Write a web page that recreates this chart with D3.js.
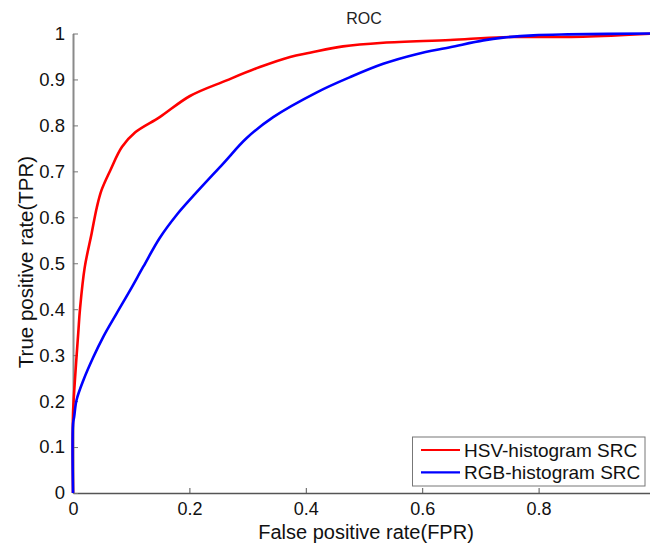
<!DOCTYPE html>
<html><head><meta charset="utf-8">
<script src="https://cdn.jsdelivr.net/npm/d3@7"></script>
<style>body{margin:0;background:#fff}svg{display:block;font-family:"Liberation Sans",Arial,sans-serif}</style>
</head><body><svg id="c" width="650" height="543"></svg>
<script>
const seriesNames = ["HSV-histogram SRC", "RGB-histogram SRC"];
const seriesColors = ["#ff0000", "#0000ff"];
const hsvFPR = [0,0,0.003,0.009,0.012,0.02,0.032,0.041,0.049,0.064,0.084,0.107,0.149,0.201,0.264,0.321,0.373,0.407,0.464,0.533,0.648,0.739,0.876,1.0];
const hsvTPR = [0,0.17,0.24,0.348,0.40,0.49,0.565,0.622,0.659,0.702,0.753,0.785,0.818,0.864,0.898,0.927,0.949,0.958,0.972,0.980,0.986,0.992,0.993,1.0];
const rgbFPR = [0,0,0.002,0.006,0.018,0.035,0.052,0.075,0.098,0.121,0.149,0.178,0.207,0.258,0.298,0.344,0.419,0.476,0.533,0.590,0.648,0.705,0.739,0.791,0.85,1.0];
const rgbTPR = [0,0.15,0.166,0.202,0.246,0.296,0.340,0.391,0.441,0.493,0.555,0.605,0.647,0.717,0.772,0.818,0.872,0.905,0.934,0.955,0.970,0.985,0.991,0.996,0.998,1.0];
const xTicks = [0,0.2,0.4,0.6,0.8];
const xTickLabels = ["0","0.2","0.4","0.6","0.8"];
const yTicks = [0,0.1,0.2,0.3,0.4,0.5,0.6,0.7,0.8,0.9,1];
const yTickLabels = ["0","0.1","0.2","0.3","0.4","0.5","0.6","0.7","0.8","0.9","1"];
const titleText = "ROC";
const xLabel = "False positive rate(FPR)";
const yLabel = "True positive rate(TPR)";

const svg = d3.select("#c");
const x = d3.scaleLinear().domain([0,1]).range([73,655]);
const y = d3.scaleLinear().domain([0,1]).range([493,33.5]);
const FF = "Liberation Sans, Arial, sans-serif";

// axes
const xa = svg.append("g").attr("transform","translate(0,493)")
  .call(d3.axisBottom(x).tickValues(xTicks).tickFormat((d,i)=>xTickLabels[i]).tickSizeInner(-5).tickSizeOuter(0).tickPadding(9));
xa.select(".domain").attr("stroke","#555").attr("stroke-width",1.3);
xa.selectAll(".tick line").attr("stroke","#555");
xa.selectAll(".tick text").attr("font-size",18).attr("fill","#111").attr("font-family",FF);

const ya = svg.append("g").attr("transform","translate(73,0)")
  .call(d3.axisLeft(y).tickValues(yTicks).tickFormat((d,i)=>yTickLabels[i]).tickSizeInner(-5).tickSizeOuter(0).tickPadding(8));
ya.select(".domain").attr("stroke","#8a8a8a").attr("stroke-width",2);
ya.selectAll(".tick line").attr("stroke","#777");
ya.selectAll(".tick text").attr("font-size",18.5).attr("fill","#111").attr("font-family",FF);

// lines
const line = d3.line().x(d=>x(d[0])).y(d=>y(d[1])).curve(d3.curveCatmullRom.alpha(0.5));
const series = [d3.zip(hsvFPR,hsvTPR), d3.zip(rgbFPR,rgbTPR)];
series.forEach((s,i)=>{
  svg.append("path").datum(s).attr("d",line).attr("fill","none")
    .attr("stroke",seriesColors[i]).attr("stroke-width",2.6).attr("stroke-linejoin","round");
});

// title and labels
svg.append("text").attr("x",364).attr("y",24).attr("text-anchor","middle")
  .attr("font-size",16).attr("fill","#222").attr("font-family",FF).text(titleText);
svg.append("text").attr("x",366).attr("y",539).attr("text-anchor","middle")
  .attr("font-size",20).attr("fill","#111").attr("font-family",FF).text(xLabel);
svg.append("text").attr("transform","translate(32.5,262) rotate(-90)").attr("text-anchor","middle")
  .attr("font-size",20.5).attr("fill","#111").attr("font-family",FF).text(yLabel);

// legend
const lg = svg.append("g");
lg.append("rect").attr("x",412.5).attr("y",437).attr("width",232.5).attr("height",49)
  .attr("fill","#fff").attr("stroke","#777").attr("stroke-width",1);
seriesNames.forEach((n,i)=>{
  const yy = 450 + i*22.3;
  lg.append("line").attr("x1",421).attr("x2",460).attr("y1",yy).attr("y2",yy)
    .attr("stroke",seriesColors[i]).attr("stroke-width",2.2);
  lg.append("text").attr("x",464).attr("y",yy+6.8).attr("font-size",19).attr("fill","#111").attr("font-family",FF).text(n);
});
</script></body></html>
